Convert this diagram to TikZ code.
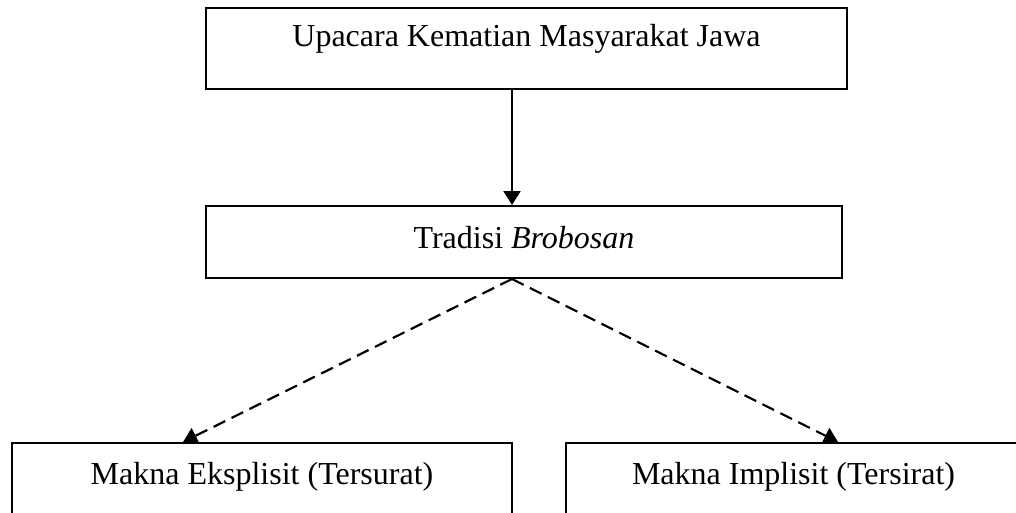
\documentclass[tikz,border=0pt]{standalone}
\usepackage{fontspec}
\setmainfont{Liberation Serif}
\usetikzlibrary{arrows.meta}
\tikzset{
    kotak/.style={draw, line width=2pt, rectangle, inner sep=0pt, anchor=north,
        font=\fontsize{32}{38}\selectfont},
    panah/.style={line width=2.2pt, -{Triangle[width=17pt,length=14pt]}},
    putus/.style={panah, dash pattern=on 13pt off 7pt}
}
\begin{document}
\begin{tikzpicture}[x=1pt,y=-1pt]
\clip (0,0) rectangle (1016,513);
\fill[white] (0,0) rectangle (1016,513);
\node[kotak, minimum width=641pt, text height=39pt, text depth=42pt] (upacara) at (526.5,7) {Upacara Kematian Masyarakat Jawa};
\node[kotak, minimum width=636pt, text height=42pt, text depth=30pt] (tradisi) at (524,205) {Tradisi \textit{Brobosan}};
\node[kotak, minimum width=500pt, text height=41pt, text depth=40pt] (tersurat) at (262,442) {Makna Eksplisit (Tersurat)};
\node[kotak, minimum width=455pt, text height=41pt, text depth=40pt] (tersirat) at (793.5,442) {Makna Implisit (Tersirat)};
\draw[panah] ([xshift=-14.5pt]upacara.south) -- ([xshift=-12pt]tradisi.north);
\draw[putus] ([xshift=-12pt]tradisi.south) -- ([xshift=-79pt]tersurat.north);
\draw[putus] ([xshift=-12pt]tradisi.south) -- ([xshift=44.5pt]tersirat.north);
\end{tikzpicture}
\end{document}
